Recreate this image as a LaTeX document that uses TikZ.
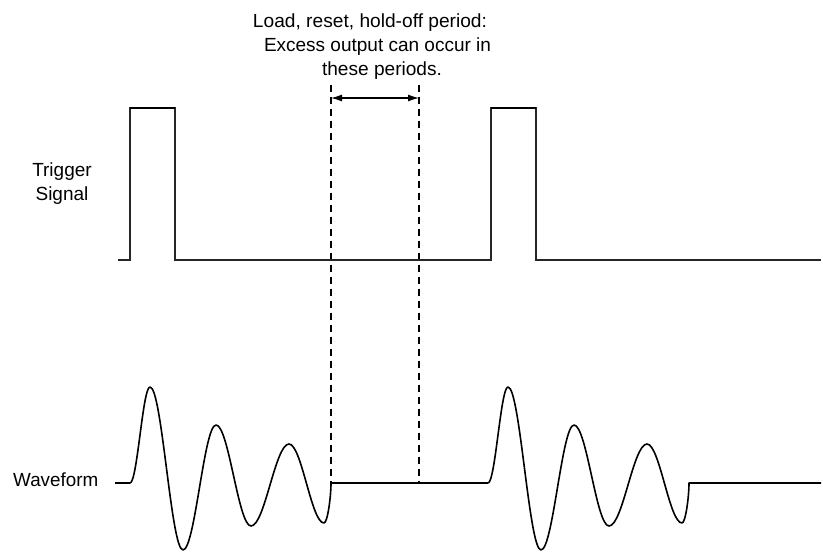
\documentclass[tikz,border=0pt]{standalone}
\usepackage{graphicx}
\usepackage{fontspec}
\setmainfont{Liberation Sans}
\usetikzlibrary{arrows.meta}
\newcommand\burstpath{%
 .. controls (137.3,483) and (142.7,387) .. (150,387)
 .. controls (162,387) and (171,550) .. (183,550)
 .. controls (195,550) and (204,425) .. (216,425)
 .. controls (228.7,425) and (238.3,526) .. (251,526)
 .. controls (264.8,526) and (275.2,444) .. (289,444)
 .. controls (301.7,444) and (311.3,523) .. (324,523)
 .. controls (327.5,523) and (331,497) .. (331,483)}
\newcommand\fitw[2]{\resizebox{#1}{\height}{#2}}
\tikzset{
  lbl/.style={font=\fontsize{19}{24}\selectfont, inner sep=0pt},
  sig/.style={line width=1.4pt, black!85, line join=miter},
  wave/.style={line width=1.6pt, black, line join=round},
  guide/.style={line width=1.3pt, dash pattern=on 7pt off 5pt},
}
\begin{document}
\begin{tikzpicture}[x=1pt,y=-1pt]
\useasboundingbox (0,0) rectangle (823,553);
% header text
\node[lbl, anchor=base] (t1) at (370,28) {\fitw{234pt}{Load, reset, hold-off period:}};
\node[lbl, anchor=base] (t2) at (377.5,52) {\fitw{227pt}{Excess output can occur in}};
\node[lbl, anchor=base] (t3) at (382,76) {\fitw{120pt}{these periods.}};
% labels
\node[lbl, anchor=base] (trig) at (62,177) {Trigger};
\node[lbl, anchor=base] (sigl) at (62,201) {Signal};
\node[lbl, anchor=base west] (wf) at (13,487) {\fitw{85pt}{Waveform}};
% dashed guides
\coordinate (d1t) at (331,85); \coordinate (d1b) at (331,483);
\coordinate (d2t) at (419,85); \coordinate (d2b) at (419,483);
\draw[guide] (d1t) -- (d1b);
\draw[guide] (d2t) -- (d2b);
\draw[{Latex[length=11pt,width=7pt]}-{Latex[length=11pt,width=7pt]}, line width=1.2pt] (331,98) -- (419,98);
% trigger signal
\draw[sig] (118,260) -- (130,260) -- (130,108) -- (175,108) -- (175,260)
  -- (491,260) -- (491,108) -- (536,108) -- (536,260) -- (821,260);
\draw[line width=2.8pt] (130,108) -- (175,108);
\draw[line width=2.8pt] (491,108) -- (536,108);
% waveform
\draw[wave] (115,483) -- (130,483) \burstpath -- (488,483);
\begin{scope}[xshift=358pt]
\draw[wave] (130,483) \burstpath -- (463,483);
\end{scope}
\end{tikzpicture}
\end{document}
